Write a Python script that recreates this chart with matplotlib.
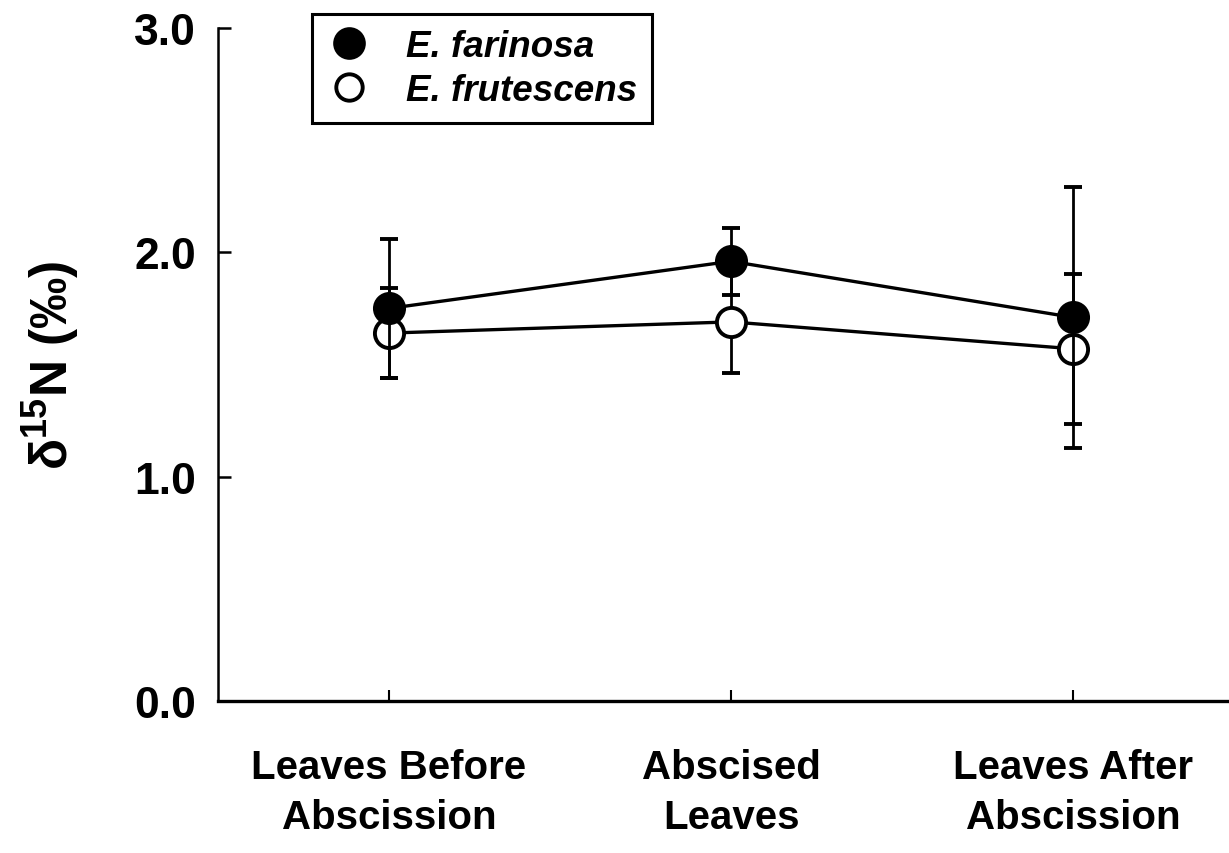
import numpy as np
import matplotlib
matplotlib.use("Agg")
from matplotlib import pyplot as plt
from matplotlib.lines import Line2D

plt.rcParams['font.family'] = ['Liberation Sans', 'DejaVu Sans']
plt.rcParams['font.weight'] = 'bold'
plt.rcParams['mathtext.default'] = 'regular'

# data
categories = ["Leaves Before\nAbscission", "Abscised\nLeaves", "Leaves After\nAbscission"]
farinosa = [1.75, 1.96, 1.71]
farinosa_err = [0.31, 0.15, 0.58]
frutescens = [1.64, 1.69, 1.57]
frutescens_err = [0.20, 0.23, 0.335]
yticks = [0.0, 1.0, 2.0, 3.0]

x = np.arange(1, len(categories) + 1)

fig = plt.figure(figsize=(12.29, 8.54), dpi=100)
ax = fig.add_axes([218/1229, 1 - 702/854, (1244 - 218)/1229, (702 - 29)/854])

ax.errorbar(x, frutescens, yerr=frutescens_err, color='black', lw=2.4,
            marker='o', ms=21, mfc='white', mec='black', mew=2.8,
            ecolor='black', elinewidth=2.0, capsize=6.5, capthick=2.8, zorder=3)
ax.errorbar(x, farinosa, yerr=farinosa_err, color='black', lw=2.4,
            marker='o', ms=21, mfc='black', mec='black', mew=2.8,
            ecolor='black', elinewidth=2.0, capsize=6.5, capthick=2.8, zorder=4)

ax.set_xlim(0.5, 3.5)
ax.set_ylim(0, 3)
ax.set_yticks(yticks)
ax.set_yticklabels(["%.1f" % t for t in yticks], fontsize=32, fontweight='bold')
ax.set_xticks(x)
ax.set_xticklabels(categories, fontsize=29, fontweight='bold', linespacing=1.4)

ax.spines['top'].set_visible(False)
ax.spines['right'].set_visible(False)
ax.spines['left'].set_linewidth(1.8)
ax.spines['bottom'].set_linewidth(2.4)
ax.tick_params(axis='y', direction='in', length=9, width=1.8, pad=16)
ax.tick_params(axis='x', direction='in', length=8, width=1.5, pad=34)

ax.set_ylabel(r'δ$^{15}$N (‰)', fontsize=37, fontweight='bold')
ax.yaxis.set_label_coords(-0.133, 0.5)

handles = [Line2D([], [], ls='none', marker='o', ms=21, mfc='black', mec='black', mew=2.5),
           Line2D([], [], ls='none', marker='o', ms=19, mfc='white', mec='black', mew=2.8)]
leg = fig.legend(handles, ["E. farinosa", "E. frutescens"], loc='upper left',
                 bbox_to_anchor=(312/1229, 1 - 15/854), borderaxespad=0,
                 prop={'style': 'italic', 'weight': 'bold', 'size': 26.5}, fancybox=False,
                 edgecolor='black', framealpha=1, handletextpad=0.95,
                 borderpad=0.4, labelspacing=0.25, handlelength=1.2)
leg.get_frame().set_linewidth(2.2)

fig.savefig("out.png", dpi=100)
